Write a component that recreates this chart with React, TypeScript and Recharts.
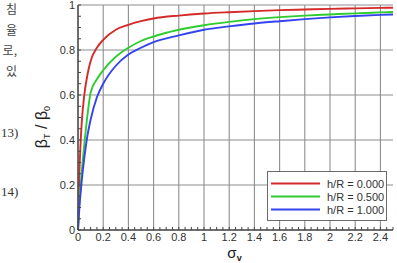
import React from "react";
import { LineChart, Line, XAxis, YAxis, CartesianGrid, Legend, Label } from "recharts";

// sigma_v samples and beta_T / beta_0, one list per h/R
const sigma = [0, 0.01, 0.02, 0.03, 0.05, 0.075, 0.1, 0.15, 0.2, 0.3, 0.4, 0.5, 0.6, 0.8, 1.0, 1.2, 1.4, 1.6, 1.8, 2.0, 2.2, 2.4, 2.5];
const ratioH000 = [0, 0.24, 0.38, 0.48, 0.6, 0.69, 0.75, 0.81, 0.845, 0.89, 0.912, 0.928, 0.94, 0.953, 0.962, 0.968, 0.973, 0.977, 0.98, 0.983, 0.985, 0.987, 0.988];
const ratioH050 = [0, 0.12, 0.19, 0.26, 0.38, 0.51, 0.61, 0.67, 0.71, 0.77, 0.81, 0.84, 0.86, 0.89, 0.91, 0.925, 0.937, 0.946, 0.953, 0.958, 0.963, 0.967, 0.969];
const ratioH100 = [0, 0.09, 0.16, 0.22, 0.32, 0.42, 0.49, 0.59, 0.65, 0.73, 0.78, 0.81, 0.835, 0.865, 0.89, 0.905, 0.918, 0.928, 0.937, 0.945, 0.951, 0.956, 0.958];

const seriesNames = ["h/R = 0.000", "h/R = 0.500", "h/R = 1.000"];
const seriesKeys = ["h000", "h050", "h100"];
const seriesColors = ["#d42a2a", "#2fcc2f", "#3344ee"];

const majorX = [0, 0.2, 0.4, 0.6, 0.8, 1, 1.2, 1.4, 1.6, 1.8, 2, 2.2, 2.4];
const majorY = [0, 0.2, 0.4, 0.6, 0.8, 1];
// minor ticks every 0.05 along both axes
const minorX = Array.from({ length: 51 }, (_, i) => (i * 5) / 100);
const minorY = Array.from({ length: 21 }, (_, i) => (i * 5) / 100);

const data = sigma.map((s, i) => ({
  sigma: s,
  h000: ratioH000[i],
  h050: ratioH050[i],
  h100: ratioH100[i],
}));

const FONT = "'Liberation Sans', Arial, sans-serif";
const FRAME = "#505050";
const GRID = "#8e8e8e";

const isMajor = (v: number) => Math.abs(v / 0.2 - Math.round(v / 0.2)) < 1e-6;
const fmt = (v: number) => String(Math.round(v * 10) / 10);

function XTick({ x, y, payload }: any) {
  const v = payload.value;
  if (!isMajor(v) || v > 2.41) return <g />;
  return (
    <text x={x} y={y} dy="0.71em" textAnchor="middle" fontSize={11} fill="#333" fontFamily={FONT}>
      {fmt(v)}
    </text>
  );
}

function YTick({ x, y, payload }: any) {
  const v = payload.value;
  if (!isMajor(v)) return <g />;
  return (
    <text x={x} y={y} dy="0.355em" textAnchor="end" fontSize={11} fill="#333" fontFamily={FONT}>
      {fmt(v)}
    </text>
  );
}

function XTitle({ viewBox }: any) {
  const cx = viewBox.x + viewBox.width / 2;
  return (
    <text x={cx - 1} y={viewBox.y + 28} textAnchor="middle" fontFamily={FONT} fill="#222">
      <tspan fontSize={15}>σ</tspan>
      <tspan fontSize={9} dy={3} fontWeight="bold">v</tspan>
    </text>
  );
}

function YTitle() {
  const cx = 47;
  const cy = 127;
  return (
    <text x={cx} y={cy} textAnchor="middle" fontFamily={FONT} fill="#222" transform={`rotate(-90, ${cx}, ${cy})`}>
      <tspan fontSize={16}>β</tspan>
      <tspan fontSize={9} dy={3}>T</tspan>
      <tspan fontSize={16} dy={-3}> / β</tspan>
      <tspan fontSize={9} dy={3}>0</tspan>
    </text>
  );
}

function LegendBox({ payload }: any) {
  return (
    <div
      style={{
        background: "#fff",
        border: "1px solid #6a6a6a",
        padding: "5px 0 4px 0",
        width: 118,
        fontFamily: FONT,
        fontSize: 11,
        color: "#333",
      }}
    >
      {(payload || []).map((p: any) => (
        <div key={p.value} style={{ display: "flex", alignItems: "center", height: 13 }}>
          <svg width={56} height={13} style={{ marginLeft: 3 }}>
            <line x1={0} y1={6.5} x2={49} y2={6.5} stroke={p.color} strokeWidth={2} />
          </svg>
          <span>{p.value}</span>
        </div>
      ))}
    </div>
  );
}

const sideText = [
  { t: "침", top: 0 },
  { t: "율", top: 21 },
  { t: "로,", top: 41 },
  { t: "있", top: 62 },
];

const eqNumbers = [
  { t: "13)", top: 125 },
  { t: "14)", top: 184 },
];

export default function App() {
  return (
    <div style={{ position: "absolute", left: 0, top: 0, width: 397, height: 263, background: "#fff" }}>
      {sideText.map((s) => (
        <div
          key={s.t}
          style={{
            position: "absolute",
            right: 380,
            top: s.top,
            fontSize: 12,
            color: "#444",
            fontFamily: "'Noto Sans CJK KR', serif",
            whiteSpace: "nowrap",
          }}
        >
          {s.t}
        </div>
      ))}
      {eqNumbers.map((s) => (
        <div
          key={s.t}
          style={{
            position: "absolute",
            left: 1,
            top: s.top,
            fontSize: 13,
            color: "#333",
            fontFamily: "'Liberation Serif', serif",
            whiteSpace: "nowrap",
          }}
        >
          {s.t}
        </div>
      ))}
      <LineChart width={397} height={263} data={data} margin={{ top: 5, right: 4, bottom: 0, left: 0 }}>
        <CartesianGrid verticalValues={majorX} horizontalValues={majorY} stroke={GRID} strokeWidth={1.1} />
        <XAxis
          dataKey="sigma"
          type="number"
          domain={[0, 2.5]}
          ticks={minorX}
          interval={0}
          height={33}
          tickSize={-3}
          tickMargin={6}
          tickLine={{ stroke: "#444" }}
          axisLine={{ stroke: FRAME, strokeWidth: 1.5 }}
          tick={<XTick />}
        >
          <Label content={<XTitle />} />
        </XAxis>
        <YAxis
          type="number"
          domain={[0, 1]}
          ticks={minorY}
          interval={0}
          width={78}
          tickSize={-3}
          tickMargin={6}
          tickLine={{ stroke: "#444" }}
          axisLine={{ stroke: FRAME, strokeWidth: 1.5 }}
          tick={<YTick />}
        >
          <Label content={<YTitle />} />
        </YAxis>
        <XAxis xAxisId="top" orientation="top" type="number" domain={[0, 2.5]} height={0} tick={false} tickLine={false} axisLine={{ stroke: FRAME, strokeWidth: 1.5 }} />
        <YAxis yAxisId="right" orientation="right" type="number" domain={[0, 1]} width={0} tick={false} tickLine={false} axisLine={{ stroke: FRAME, strokeWidth: 1.5 }} />
        {seriesKeys.map((k, i) => (
          <Line
            key={k}
            dataKey={k}
            name={seriesNames[i]}
            type="monotone"
            stroke={seriesColors[i]}
            strokeWidth={1.9}
            dot={false}
            isAnimationActive={false}
          />
        ))}
        <Legend
          layout="vertical"
          align="center"
          verticalAlign="middle"
          wrapperStyle={{ left: 267, top: 171, width: 120 }}
          content={<LegendBox />}
        />
      </LineChart>
    </div>
  );
}
